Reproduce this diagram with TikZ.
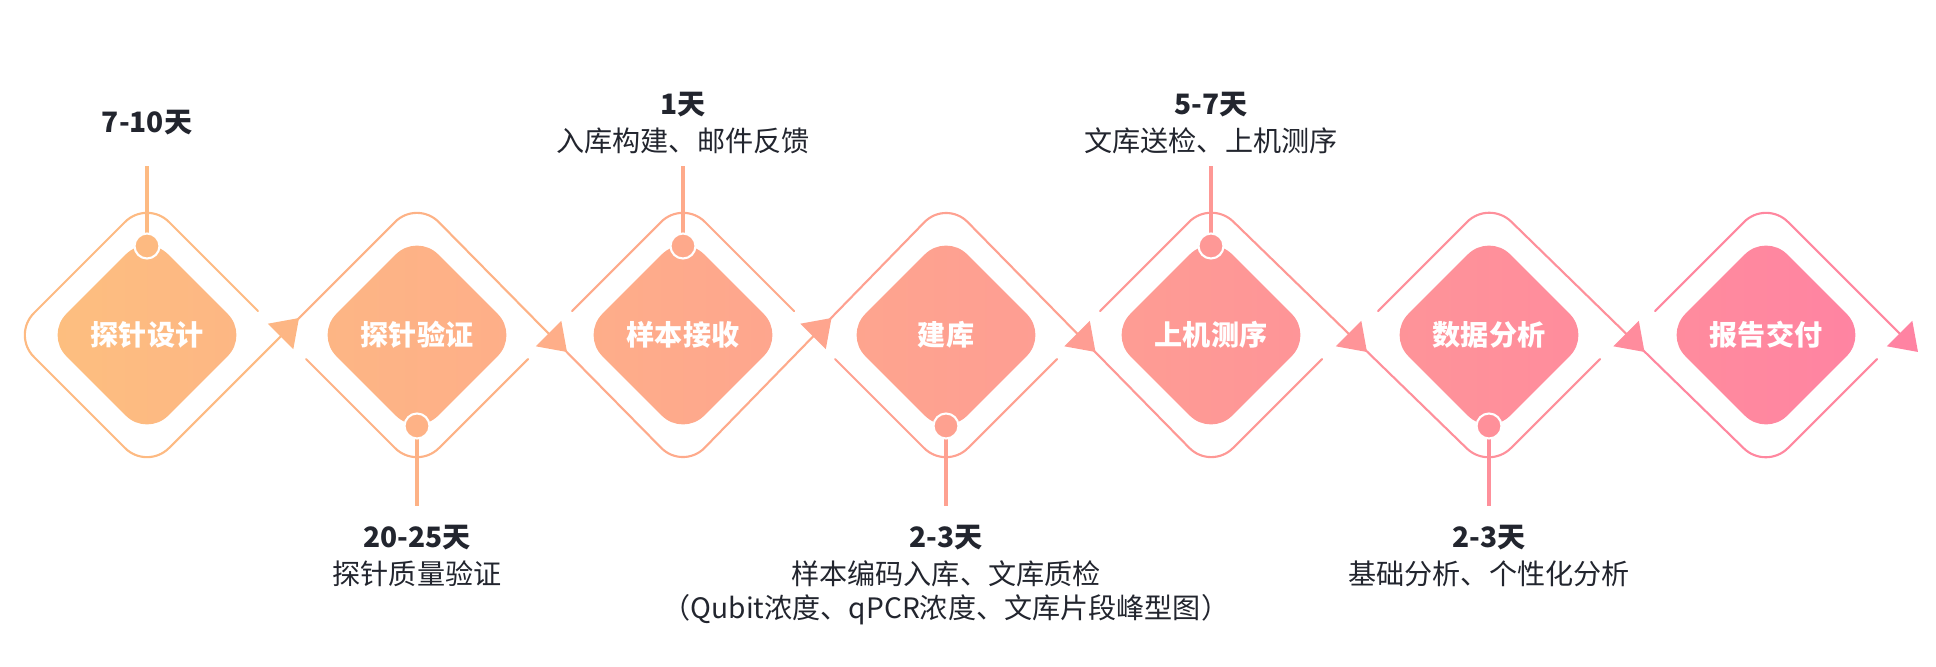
\documentclass[tikz,border=0pt]{standalone}
\usepackage{fontspec}
\setmainfont{Noto Sans CJK SC}
\usetikzlibrary{calc,shapes.geometric}

% 渐变色：橙 -> 粉
\definecolor{e0}{RGB}{253,191,127}
\definecolor{e1}{RGB}{253,182,132}
\definecolor{e2}{RGB}{254,174,137}
\definecolor{e3}{RGB}{254,165,142}
\definecolor{e4}{RGB}{254,157,147}
\definecolor{e5}{RGB}{254,148,152}
\definecolor{e6}{RGB}{255,140,157}
\definecolor{e7}{RGB}{255,131,162}
\colorlet{c1}{e0!50!e1}
\colorlet{c2}{e1!50!e2}
\colorlet{c3}{e2!50!e3}
\colorlet{c4}{e3!50!e4}
\colorlet{c5}{e4!50!e5}
\colorlet{c6}{e5!50!e6}
\colorlet{c7}{e6!50!e7}
\definecolor{inkdark}{RGB}{34,37,46}

\tikzset{
  stepbox/.style={shape=diamond, minimum width=4.08cm, minimum height=4.08cm, inner sep=0pt,
    rounded corners=0.6cm, text=white, font=\fontsize{16}{19}\selectfont\bfseries},
  frameline/.style={line width=1.2pt, rounded corners=0.62cm},
  stemline/.style={line width=2.1pt, line cap=butt},
  dotmark/.style={circle, minimum size=0.5cm, inner sep=0pt, draw=white, line width=1.2pt},
  daytxt/.style={font=\fontsize{16}{19}\selectfont\bfseries, text=inkdark, inner sep=0pt},
  desctxt/.style={font=\fontsize{16}{19}\selectfont, text=inkdark, inner sep=0pt},
}

\begin{document}
\begin{tikzpicture}[line cap=round,line join=round,x=0.02cm,y=-0.02cm]
  \useasboundingbox (0,0) rectangle (1936,666);
  % 各菱形的角点与缺口点
  \foreach \i/\x in {1/147,2/417,3/683,4/946,5/1211,6/1489,7/1766} {
    \coordinate (T\i) at (\x,200);
    \coordinate (B\i) at (\x,470);
    \coordinate (UL\i) at (\x-111,311);
    \coordinate (UR\i) at (\x+111,311);
    \coordinate (LL\i) at (\x-111,359);
    \coordinate (LR\i) at (\x+111,359);
  }
  \coordinate (L1) at (12,335);
  \coordinate (J12) at ($(B1)!0.5!(T2)$);
  \coordinate (J23) at ($(T2)!0.5!(B3)$);
  \coordinate (J34) at ($(B3)!0.5!(T4)$);
  \coordinate (J45) at ($(T4)!0.5!(B5)$);
  \coordinate (J56) at ($(T5)!0.5!(B6)$);
  \coordinate (J67) at ($(T6)!0.5!(B7)$);
  \coordinate (J78) at (1901,335);

  % 外框折线
  \draw[frameline, c1] (UR1) -- (T1) -- (L1) -- (B1) -- (J12);
  \draw[frameline, c2] (J12) -- (T2) -- (J23);
  \draw[frameline, c2] (LL2) -- (B2) -- (LR2);
  \draw[frameline, c3] (UL3) -- (T3) -- (UR3);
  \draw[frameline, c3] (J23) -- (B3) -- (J34);
  \draw[frameline, c4] (J34) -- (T4) -- (J45);
  \draw[frameline, c4] (LL4) -- (B4) -- (LR4);
  \draw[frameline, c5] (UL5) -- (T5) -- (J56);
  \draw[frameline, c5] (J45) -- (B5) -- (LR5);
  \draw[frameline, c6] (UL6) -- (T6) -- (J67);
  \draw[frameline, c6] (J56) -- (B6) -- (LR6);
  \draw[frameline, c7] (UL7) -- (T7) -- (J78);
  \draw[frameline, c7] (J67) -- (B7) -- (LR7);

  % 箭头
  \foreach \j/\a/\col in {J12/45/e1, J23/-45/e2, J34/45/e3, J45/-45/e4, J56/-45/e5, J67/-45/e6, J78/-45/e7} {
    \fill[\col, shift={(\j)}, rotate=\a] (-2,-18) -- (24,0) -- (-2,18) -- cycle;
  }

  % 步骤菱形
  \foreach \i/\x/\lc/\rc/\txt in {1/147/e0/e1/探针设计, 2/417/e1/e2/探针验证, 3/683/e2/e3/样本接收,
      4/946/e3/e4/建库, 5/1211/e4/e5/上机测序, 6/1489/e5/e6/数据分析, 7/1766/e6/e7/报告交付} {
    \node[stepbox, left color=\lc, right color=\rc] (s\i) at (\x,335) {\txt};
  }

  % 时间标注
  \node[daytxt] (day1) at (147,123) {7-10天};
  \node[daytxt] (day3) at (683,105) {1天};
  \node[desctxt] (txt3) at (683,141) {入库构建、邮件反馈};
  \node[daytxt] (day5) at (1211,105) {5-7天};
  \node[desctxt] (txt5) at (1211,141) {文库送检、上机测序};
  \node[daytxt] (day2) at (417,538) {20-25天};
  \node[desctxt] (txt2) at (417,574) {探针质量验证};
  \node[daytxt] (day4) at (946,538) {2-3天};
  \node[desctxt] (txt4) at (946,574) {样本编码入库、文库质检};
  \node[desctxt] (txt4b) at (946,610) {（Qubit浓度、qPCR浓度、文库片段峰型图）};
  \node[daytxt] (day6) at (1489,538) {2-3天};
  \node[desctxt] (txt6) at (1489,574) {基础分析、个性化分析};

  % 竖线与圆点
  \foreach \i/\x in {1/147,3/683,5/1211} {
    \coordinate (P\i) at (\x,166);
    \coordinate (K\i) at (\x,246);
    \draw[stemline, c\i] (P\i) -- (K\i);
    \node[dotmark, fill=c\i] (dot\i) at (K\i) {};
  }
  \foreach \i/\x in {2/417,4/946,6/1489} {
    \coordinate (P\i) at (\x,506);
    \coordinate (K\i) at (\x,426);
    \draw[stemline, c\i] (K\i) -- (P\i);
    \node[dotmark, fill=c\i] (dot\i) at (K\i) {};
  }
\end{tikzpicture}
\end{document}
